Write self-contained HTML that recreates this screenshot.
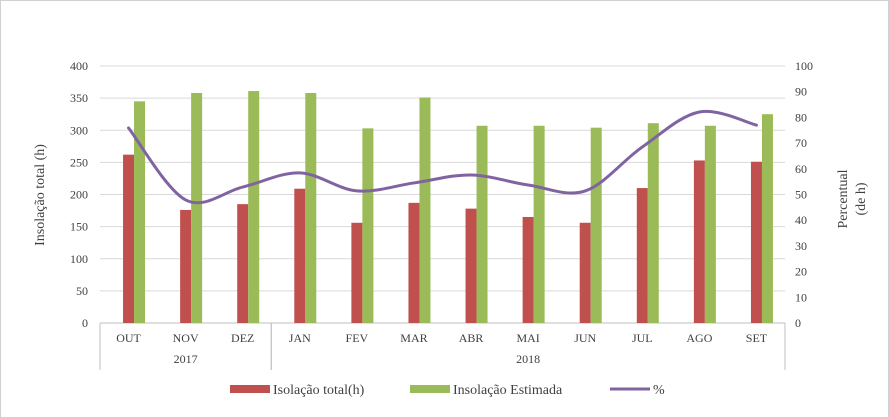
<!DOCTYPE html>
<html><head><meta charset="utf-8"><style>
html,body{margin:0;padding:0;background:#fff;}
svg{display:block;font-family:"Liberation Serif",serif;}
</style></head><body>
<svg id="c" width="889" height="418" viewBox="0 0 889 418">
<rect x="0.5" y="0.5" width="888" height="417" fill="#fff" stroke="#d0d0d0"/>
<g id="grid"></g><g id="bars"></g><g id="line"></g><g id="ticks"></g>
<text transform="translate(44,195) rotate(-90)" text-anchor="middle" font-size="14" fill="#404040">Insolação total (h)</text>
<text transform="translate(847,199) rotate(-90)" text-anchor="middle" font-size="14" fill="#404040">Percentual</text>
<text transform="translate(865,199) rotate(-90)" text-anchor="middle" font-size="14" fill="#404040">(de h)</text>
<g>
<rect x="230" y="385" width="40" height="8" fill="#c0504d"/>
<text x="273" y="394" font-size="14" fill="#404040">Isolação total(h)</text>
<rect x="410" y="385" width="40" height="8" fill="#9bbb59"/>
<text x="453" y="394" font-size="14" fill="#404040">Insolação Estimada</text>
<line x1="610" y1="389" x2="650" y2="389" stroke="#8064a2" stroke-width="3"/>
<text x="653" y="394" font-size="14" fill="#404040">%</text>
</g>
</svg>
<script>
const categories=["OUT","NOV","DEZ","JAN","FEV","MAR","ABR","MAI","JUN","JUL","AGO","SET"];
const totalHours=[262,176,185,209,156,187,178,165,156,210,253,251];
const estimatedHours=[345,358,361,358,303,351,307,307,304,311,307,325];
const percent=[75.9,47.9,52.9,58.4,51.4,54.5,57.6,53.7,51.4,68.5,82.1,77.0];
const leftTicks=[0,50,100,150,200,250,300,350,400];
const rightTicks=[0,10,20,30,40,50,60,70,80,90,100];
const years=[{label:"2017",from:0,to:3},{label:"2018",from:3,to:12}];

const NS="http://www.w3.org/2000/svg";
const X0=100,X1=785,Y0=323,Y1=66;
const band=(X1-X0)/categories.length;
const yL=v=>Y0-(v/400)*(Y0-Y1);
const yR=v=>Y0-(v/100)*(Y0-Y1);
const xC=i=>X0+band*(i+0.5);
function mk(tag,attrs,parent){const e=document.createElementNS(NS,tag);for(const k in attrs)e.setAttribute(k,attrs[k]);document.getElementById(parent).appendChild(e);return e;}

leftTicks.forEach(t=>{
 const g=mk("line",{x1:X0,x2:X1,y1:yL(t),y2:yL(t),stroke:t===0?"#bfbfbf":"#d9d9d9"},"grid");
 
 
 const l=mk("text",{x:88,y:yL(t)+4,"text-anchor":"end","font-size":12,fill:"#404040"},"ticks");
 l.textContent=t;
 
 
});
rightTicks.forEach(t=>{
 const l=mk("text",{x:795,y:yR(t)+4,"font-size":12,fill:"#404040"},"ticks");
 l.textContent=t;
 
 
});
categories.forEach((c,i)=>{
 const r=mk("rect",{x:xC(i)-5.5,y:yL(totalHours[i]),width:11,height:Y0-yL(totalHours[i]),fill:"#c0504d"},"bars");
 
 
 const g=mk("rect",{x:xC(i)+5.5,y:yL(estimatedHours[i]),width:11,height:Y0-yL(estimatedHours[i]),fill:"#9bbb59"},"bars");
 
 
 const l=mk("text",{x:xC(i),y:342,"text-anchor":"middle","font-size":12,fill:"#404040"},"ticks");
 l.textContent=c;
 
 
});
years.forEach(y=>{
 const a=X0+band*y.from,b=X0+band*y.to;
 const l=mk("text",{x:(a+b)/2,y:363,"text-anchor":"middle","font-size":12,fill:"#404040"},"ticks");
 l.textContent=y.label;
 
 
 [a,b].forEach(x=>{
  const s=mk("line",{x1:x,x2:x,y1:Y0,y2:370,stroke:"#bfbfbf"},"ticks");
  
  
 });
});
const pts=percent.map((v,i)=>[xC(i),yR(v)]);
let d="M"+pts[0][0]+","+pts[0][1];
for(let i=0;i<pts.length-1;i++){
 const p0=pts[Math.max(0,i-1)],p1=pts[i],p2=pts[i+1],p3=pts[Math.min(pts.length-1,i+2)];
 const t=1/6;
 d+=" C"+(p1[0]+(p2[0]-p0[0])*t)+","+(p1[1]+(p2[1]-p0[1])*t)+" "+(p2[0]-(p3[0]-p1[0])*t)+","+(p2[1]-(p3[1]-p1[1])*t)+" "+p2[0]+","+p2[1];
}
const pl=mk("path",{d:d,fill:"none",stroke:"#8064a2","stroke-width":3,"stroke-linecap":"round"},"line");


</script>
</body></html>
